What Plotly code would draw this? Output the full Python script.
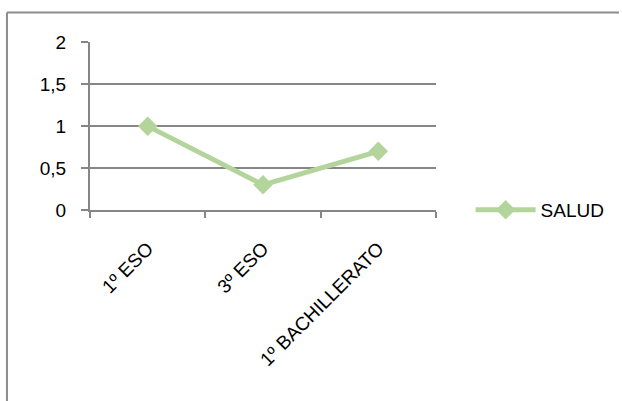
import plotly.graph_objects as go

categories = ["1º ESO", "3º ESO", "1º BACHILLERATO"]
salud = [1, 0.3, 0.7]
y_ticks = [0, 0.5, 1, 1.5, 2]
y_tick_labels = ["0", "0,5", "1", "1,5", "2"]

W, H = 622, 401
L, R, T, B = 90, 184, 42, 191
pw, ph = W - L - R, H - T - B

grid = "#868686"
green = "#B3D49B"
font = dict(family="Liberation Sans, Arial, sans-serif", size=19, color="#000000")

fig = go.Figure()
fig.add_trace(go.Scatter(
    x=categories, y=salud, mode="lines+markers", name="SALUD",
    line=dict(color=green, width=5),
    marker=dict(symbol="diamond", size=15, color=green),
))

# chart frame: top and left edges
frame_y = 1 + (T - 12.5) / ph
fig.add_shape(type="line", xref="paper", yref="paper",
              x0=(6.5 - L) / pw, x1=(W - L) / pw, y0=frame_y, y1=frame_y,
              line=dict(color="#8C8C8C", width=2))
fig.add_shape(type="line", xref="paper", yref="paper",
              x0=(6.5 - L) / pw, x1=(6.5 - L) / pw, y0=frame_y, y1=-(B + 5) / ph,
              line=dict(color="#8C8C8C", width=2))

fig.update_layout(
    width=W, height=H,
    margin=dict(l=L, r=R, t=T, b=B, pad=0),
    paper_bgcolor="white", plot_bgcolor="white",
    font=font,
    showlegend=True,
    legend=dict(x=1.10, y=0, xanchor="left", yanchor="middle",
                font=font, itemwidth=60, bgcolor="rgba(0,0,0,0)"),
    xaxis=dict(
        type="category", range=[-0.5, 2.5],
        tickson="boundaries", ticks="outside", ticklen=6,
        tickcolor=grid, tickwidth=2, showline=True, linecolor=grid, linewidth=2,
        showgrid=False, tickangle=-45, tickfont=font, zeroline=False,
        ticklabelstandoff=18,
    ),
    yaxis=dict(
        range=[0, 2.003], tickvals=y_ticks, ticktext=y_tick_labels,
        ticks="outside", ticklen=7, tickcolor=grid, tickwidth=2,
        showline=True, linecolor=grid, linewidth=2,
        showgrid=True, gridcolor=grid, gridwidth=2, zeroline=False,
        tickfont=font, ticklabelstandoff=11,
    ),
)

fig.write_html("out.html")
